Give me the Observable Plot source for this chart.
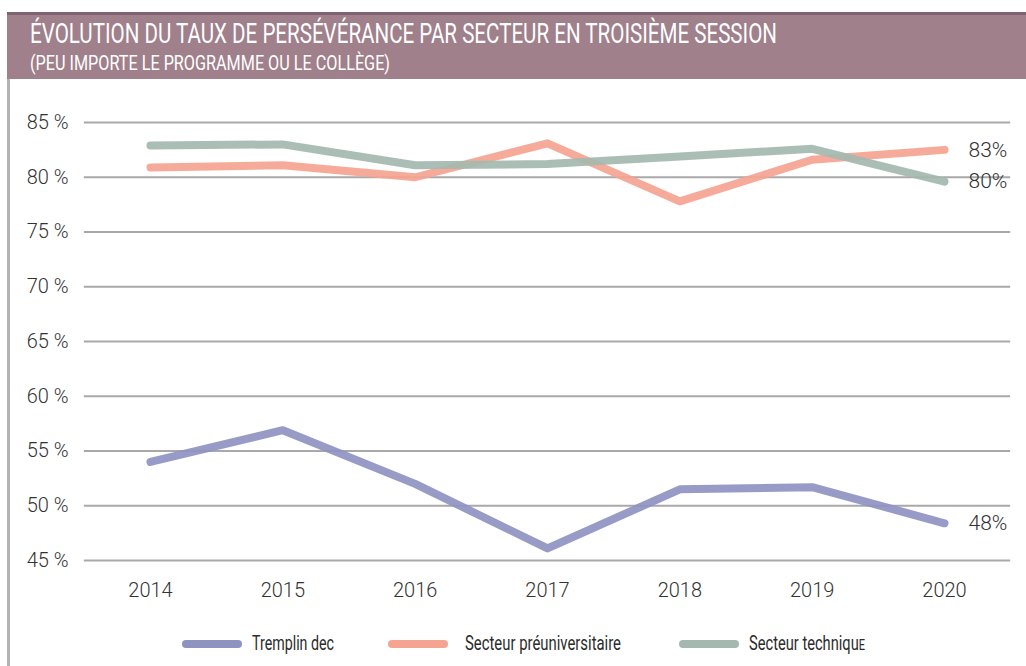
<!DOCTYPE html>
<html>
<head>
<meta charset="utf-8">
<script src="https://cdn.jsdelivr.net/npm/d3@7"></script>
<script src="https://cdn.jsdelivr.net/npm/@observablehq/plot@0.6"></script>
<style>
  body { margin: 0; background: #fff; }
  #page { position: relative; width: 1026px; height: 666px; overflow: hidden; background: #fff; font-family: Roboto, "Noto Sans", sans-serif; }
  .bar { position: absolute; left: 7px; top: 12px; width: 1019px; height: 67px; background: #a0808b; border-top: 3px solid #7e6370; box-sizing: border-box; }
  .leftline { position: absolute; left: 7px; top: 79px; width: 3px; height: 587px; background: #b3b3b3; }
  .fit { position: absolute; white-space: nowrap; line-height: 1; transform-origin: 0 50%; display: inline-block; }
  .title { color: #fff; font-size: 28px; font-weight: 400; }
  .subtitle { color: #fff; font-size: 21px; font-weight: 400; }
  .leg { color: #2b2b2b; font-size: 20px; font-weight: 400; }
  .sw { position: absolute; height: 8px; border-radius: 4px; }
  #chart { position: absolute; left: 0; top: 79px; }
  #chart svg text { font-weight: 300; }
</style>
</head>
<body>
<div id="page">
  <div class="bar"></div>
  <div class="leftline"></div>
  <div id="chart"></div>
</div>
<script>
// ---- data ----
const years = [2014, 2015, 2016, 2017, 2018, 2019, 2020];
const seriesNames = ["Tremplin dec", "Secteur préuniversitaire", "Secteur technique"];
const tremplin = [54.0, 56.9, 52.0, 46.1, 51.5, 51.7, 48.4];
const preuniversitaire = [80.9, 81.1, 80.0, 83.1, 77.8, 81.6, 82.5];
const technique = [82.9, 83.0, 81.1, 81.2, 81.9, 82.6, 79.6];
const endLabels = ["48%", "83%", "80%"];
const yTicks = [45, 50, 55, 60, 65, 70, 75, 80, 85];
const colors = ["#8e93c0", "#f5a491", "#a4b8af"];
const titleText = "ÉVOLUTION DU TAUX DE PERSÉVÉRANCE PAR SECTEUR EN TROISIÈME SESSION";
const subtitleText = "(PEU IMPORTE LE PROGRAMME OU LE COLLÈGE)";

const values = [tremplin, preuniversitaire, technique];
const rows = [];
seriesNames.forEach((s, i) => years.forEach((y, j) => rows.push({series: s, year: y, value: values[i][j]})));
const lastRows = seriesNames.map((s, i) => ({series: s, year: years[years.length - 1], value: values[i][values[i].length - 1], label: endLabels[i]}));

const chart = Plot.plot({
  width: 1026,
  height: 530,
  marginTop: 43,
  marginBottom: 49,
  marginLeft: 150,
  marginRight: 82,
  style: {fontFamily: "Roboto, sans-serif", fontSize: "20px", color: "#333", background: "transparent", overflow: "visible"},
  x: {domain: [2014, 2020]},
  y: {domain: [45, 85]},
  color: {domain: seriesNames, range: colors},
  marks: [
    Plot.ruleY(yTicks, {x1: 2013.5, x2: 2020.5, stroke: "#a9a9a9", strokeWidth: 2, clip: false}),
    Plot.axisY({ticks: yTicks, tickSize: 0, tickPadding: 82, tickFormat: d => `${d} %`, label: null, fill: "#333"}),
    Plot.axisX({ticks: years, tickSize: 0, tickPadding: 22, tickFormat: d => String(d), label: null, fill: "#333"}),
    Plot.line(rows, {x: "year", y: "value", z: "series", stroke: "series", strokeWidth: 8, strokeLinecap: "round", strokeLinejoin: "round", strokeOpacity: 0.92}),
    Plot.text(lastRows, {x: "year", y: "value", text: "label", dx: 24, textAnchor: "start", fill: "#333", fontSize: 21})
  ]
});
document.getElementById("chart").appendChild(chart);

const page = document.getElementById("page");
function addFit(cls, html, left, top, width) {
  const el = document.createElement("span");
  el.className = "fit " + cls;
  el.innerHTML = html;
  el.style.left = left + "px";
  el.style.top = top + "px";
  el.dataset.w = width;
  page.appendChild(el);
  return el;
}
addFit("title", titleText, 30, 20, 747);
addFit("subtitle", subtitleText, 30, 53, 360);

// legend
const legendItems = [
  {sw: 182, tx: 252, w: 82, html: seriesNames[0]},
  {sw: 388, tx: 465, w: 156, html: seriesNames[1]},
  {sw: 679, tx: 749, w: 116, html: "Secteur techniqu<span style=\"font-size:15px\">E</span>"}
];
legendItems.forEach((it, i) => {
  const sw = document.createElement("div");
  sw.className = "sw";
  sw.style.left = it.sw + "px";
  sw.style.top = "640px";
  sw.style.width = "60px";
  sw.style.background = colors[i];
  page.appendChild(sw);
  addFit("leg", it.html, it.tx, 633, it.w);
});

function fitAll() {
  document.querySelectorAll(".fit").forEach(el => {
    el.style.transform = "none";
    const w = el.getBoundingClientRect().width;
    if (w > 0) el.style.transform = `scaleX(${(+el.dataset.w) / w})`;
  });
}
fitAll();
if (document.fonts && document.fonts.ready) document.fonts.ready.then(fitAll);
</script>
</body>
</html>
